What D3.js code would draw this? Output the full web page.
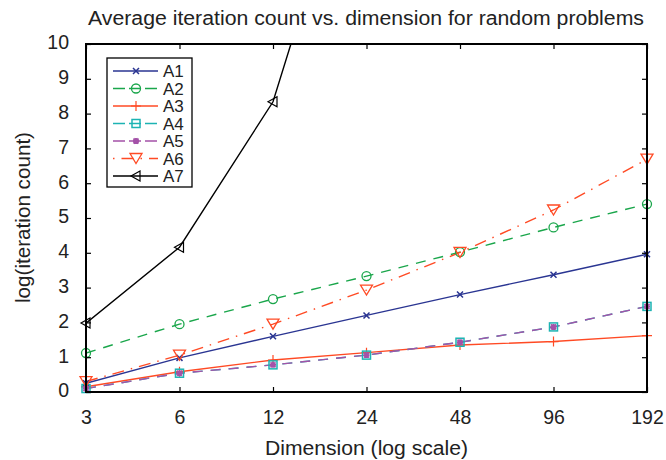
<!DOCTYPE html>
<html>
<head>
<meta charset="utf-8">
<script src="https://cdn.jsdelivr.net/npm/d3@7"></script>
<style>
  body { margin: 0; background: #fff; }
  svg text { font-family: "Liberation Sans", Arial, sans-serif; fill: #222; }
</style>
</head>
<body>
<div id="root"></div>
<script>
// Data
const dims = [3, 6, 12, 24, 48, 96, 192];
const seriesNames = ['A1', 'A2', 'A3', 'A4', 'A5', 'A6', 'A7'];
const a1 = [0.25, 0.98, 1.6, 2.2, 2.8, 3.37, 3.96];
const a2 = [1.12, 1.95, 2.67, 3.33, 4.02, 4.73, 5.4];
const a3 = [0.15, 0.58, 0.92, 1.13, 1.35, 1.45, 1.62];
const a4 = [0.1, 0.54, 0.78, 1.06, 1.43, 1.87, 2.46];
const a5 = [0.1, 0.54, 0.78, 1.06, 1.43, 1.87, 2.46];
const a6 = [0.3, 1.06, 1.95, 2.93, 4.01, 5.23, 6.69];
const a7 = [1.98, 4.16, 8.34, 17.0];
const yTicks = [0, 1, 2, 3, 4, 5, 6, 7, 8, 9, 10];

const width = 666, height = 460;
const plotL = 86, plotR = 647, plotT = 44, plotB = 392;

const styles = {
    A1: { color: '#2a3592', dash: null, marker: 'x' },
    A2: { color: '#1aa64b', dash: '10,8', marker: 'circle' },
    A3: { color: '#ff4a24', dash: null, marker: 'plus' },
    A4: { color: '#1db3b3', dash: '10,8', marker: 'square' },
    A5: { color: '#a452a8', dash: '10,8', marker: 'star' },
    A6: { color: '#ff4a24', dash: '12,7,1.5,7', marker: 'tri' },
    A7: { color: '#000000', dash: null, marker: 'ltri' }
};
const values = { A1: a1, A2: a2, A3: a3, A4: a4, A5: a5, A6: a6, A7: a7 };

const svg = d3.select('#root').append('svg')
    .attr('width', width).attr('height', height);

const x = d3.scaleLog().base(2).domain([3, 192]).range([plotL, plotR]);
const y = d3.scaleLinear().domain([0, 10]).range([plotB, plotT]);

svg.append('defs').append('clipPath').attr('id', 'clip')
    .append('rect').attr('x', plotL).attr('y', plotT)
    .attr('width', plotR - plotL).attr('height', plotB - plotT);

// Markers
const drawMarker = (g, type, color) => {
    if (type === 'x') {
        g.append('path').attr('d', 'M-3,-3L3,3M-3,3L3,-3')
            .attr('stroke', color).attr('stroke-width', 1.5);
    } else if (type === 'circle') {
        g.append('circle').attr('r', 4.5).attr('fill', 'none')
            .attr('stroke', color).attr('stroke-width', 1.3);
    } else if (type === 'plus') {
        g.append('path').attr('d', 'M-5,0L5,0M0,-5L0,5')
            .attr('stroke', color).attr('stroke-width', 1.2);
    } else if (type === 'square') {
        g.append('rect').attr('x', -4).attr('y', -4).attr('width', 8).attr('height', 8)
            .attr('fill', 'none').attr('stroke', color).attr('stroke-width', 1.5);
    } else if (type === 'star') {
        g.append('path').attr('d', 'M-3,0L3,0M0,-3L0,3M-2.5,-2.5L2.5,2.5M-2.5,2.5L2.5,-2.5')
            .attr('stroke', color).attr('stroke-width', 1.8);
    } else if (type === 'tri') {
        g.append('path').attr('d', 'M-6,-5L6,-5L0,5Z').attr('fill', 'none')
            .attr('stroke', color).attr('stroke-width', 1.3);
    } else if (type === 'ltri') {
        g.append('path').attr('d', 'M-5,0L4,-5L4,5Z').attr('fill', 'none')
            .attr('stroke', color).attr('stroke-width', 1.2);
    }
};

const line = d3.line().x((d, i) => x(dims[i])).y(d => y(d));
const plot = svg.append('g').attr('clip-path', 'url(#clip)');

seriesNames.forEach(name => {
    const s = styles[name];
    plot.append('path')
        .datum(values[name])
        .attr('d', line)
        .attr('fill', 'none')
        .attr('stroke', s.color)
        .attr('stroke-width', 1.4)
        .attr('stroke-dasharray', s.dash);
});
seriesNames.forEach(name => {
    const s = styles[name];
    values[name].forEach((v, i) => {
        if (v > 10) return;
        const g = svg.append('g').attr('transform', `translate(${x(dims[i])},${y(v)})`);
        drawMarker(g, s.marker, s.color);
    });
});

// Axes (ticks inside, mirrored)
const xAxisB = d3.axisBottom(x).tickValues(dims).tickFormat(d3.format('d')).tickSizeInner(-5).tickSizeOuter(0).tickPadding(18);
const xAxisT = d3.axisTop(x).tickValues(dims).tickFormat('').tickSizeInner(-5).tickSizeOuter(0);
const yAxisL = d3.axisLeft(y).tickValues(yTicks).tickSizeInner(-5).tickSizeOuter(0).tickPadding(17);
const yAxisR = d3.axisRight(y).tickValues(yTicks).tickFormat('').tickSizeInner(-5).tickSizeOuter(0);

const styleAxis = g => {
    g.select('.domain').remove();
    g.selectAll('.tick line').attr('stroke', '#000').attr('stroke-width', 1.2);
    g.selectAll('.tick text').attr('fill', '#222').style('font-size', '19.5px');
};
svg.append('g').attr('transform', `translate(0,${plotB})`).call(xAxisB).call(styleAxis);
svg.append('g').attr('transform', `translate(0,${plotT})`).call(xAxisT).call(styleAxis);
svg.append('g').attr('transform', `translate(${plotL},0)`).call(yAxisL).call(styleAxis)
    .selectAll('.tick text').attr('dy', '0.25em');
svg.append('g').attr('transform', `translate(${plotR},0)`).call(yAxisR).call(styleAxis);

svg.append('rect')
    .attr('x', plotL).attr('y', plotT)
    .attr('width', plotR - plotL).attr('height', plotB - plotT)
    .attr('fill', 'none').attr('stroke', '#000').attr('stroke-width', 2);

// Titles
svg.append('text')
    .attr('x', 88).attr('y', 25)
    .attr('textLength', 556).attr('lengthAdjust', 'spacingAndGlyphs')
    .style('font-size', '19.5px')
    .text('Average iteration count vs. dimension for random problems');
svg.append('text')
    .attr('x', 265).attr('y', 455)
    .attr('textLength', 203).attr('lengthAdjust', 'spacingAndGlyphs')
    .style('font-size', '19.5px')
    .text('Dimension (log scale)');
svg.append('text')
    .attr('transform', `translate(30,303)rotate(-90)`)
    .attr('textLength', 171).attr('lengthAdjust', 'spacingAndGlyphs')
    .style('font-size', '19.5px')
    .text('log(iteration count)');

// Legend
const legend = svg.append('g');
legend.append('rect')
    .attr('x', 107).attr('y', 58).attr('width', 85).attr('height', 129)
    .attr('fill', '#fff').attr('stroke', '#000').attr('stroke-width', 1.3);
seriesNames.forEach((name, i) => {
    const s = styles[name];
    const ly = 71 + i * 17.5;
    legend.append('line')
        .attr('x1', 113).attr('x2', 158).attr('y1', ly).attr('y2', ly)
        .attr('stroke', s.color).attr('stroke-width', 1.3)
        .attr('stroke-dasharray', s.dash ? (name === 'A6' ? '1.5,7,12,7' : '12,4') : null);
    const g = legend.append('g').attr('transform', `translate(136,${ly})`);
    drawMarker(g, s.marker, s.color);
    legend.append('text')
        .attr('x', 163).attr('y', ly + 6)
        .style('font-size', '17px')
        .text(name);
});
</script>
</body>
</html>
